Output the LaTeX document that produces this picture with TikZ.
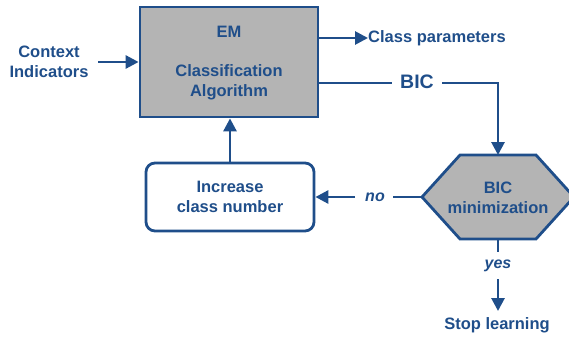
\documentclass[tikz,border=0pt]{standalone}
\usepackage{fontspec}
\setmainfont{Liberation Sans}
\usetikzlibrary{arrows.meta,shapes.geometric}
\definecolor{navy}{HTML}{1F4E8A}
\definecolor{boxgray}{HTML}{B4B4B4}
\begin{document}
\begin{tikzpicture}[x=1pt,y=-1pt,
  line/.style={draw=navy,line width=2.8pt},
  arr/.style={line,-{Triangle[length=13pt,width=13pt]}},
  lbl/.style={text=navy,font=\fontsize{16.5}{20}\selectfont\bfseries,align=center,inner sep=0pt},
  ital/.style={text=navy,font=\fontsize{16}{19}\selectfont\bfseries\itshape,inner sep=0pt},
  procbox/.style={line,fill=boxgray,minimum width=178pt,minimum height=110pt,inner sep=0pt},
  roundbox/.style={line,fill=white,rounded corners=9pt,minimum width=168pt,minimum height=68pt,inner sep=0pt},
  decide/.style={line,fill=boxgray}]
\useasboundingbox (0,0) rectangle (569,337);

% main EM block
\node[procbox] (em) at (229,62) {};
\node[lbl] (emt) at (229,32) {EM};
\node[lbl] (emc) at (229,82) {Classification\\Algorithm};

% input
\node[lbl] (ctx) at (49,62) {Context\\Indicators};
\coordinate (ctxend) at (98,62);
\draw[arr] (ctxend) -- (em.west);

% outputs
\coordinate (cpstart) at (em.east |- 0,38);
\node[lbl,anchor=west] (cp) at (368,38) {Class parameters};
\draw[arr] (cpstart) -- (cp.west);

\coordinate (bicstart) at (em.east |- 0,83);
\node[text=navy,font=\fontsize{19.5}{22}\selectfont\bfseries,inner sep=0pt] (bic) at (417,82) {BIC};
\coordinate (bicgap) at (392,83);
\coordinate (bicgap2) at (442,83);
\coordinate (biccorner) at (498,83);

% decision hexagon
\draw[decide] (422,197) -- (460,155) -- (536,155) -- (574,197) -- (536,239) -- (460,239) -- cycle;
\coordinate (hextop) at (498,155);
\coordinate (hexleft) at (422,197);
\coordinate (hexbot) at (498,239);
\node[lbl] (hext) at (498,198) {BIC\\minimization};

\draw[line] (bicstart) -- (bicgap);
\draw[arr] (bicgap2) -- (biccorner) -- (hextop);

% loop back
\node[roundbox] (inc) at (230,197) {};
\node[lbl] (inct) at (230,197) {Increase\\class number};
\node[ital] (no) at (375,197) {no};
\coordinate (nogap) at (393,197);
\coordinate (nogap2) at (355,197);
\draw[line] (hexleft) -- (nogap);
\draw[arr] (nogap2) -- (inc.east);
\draw[arr] (inc.north) -- (em.south -| inc.north);

% exit
\node[ital] (yes) at (498,266) {yes};
\node[lbl] (stop) at (497,325) {Stop learning};
\coordinate (yesgap) at (498,252);
\coordinate (yesgap2) at (498,279);
\coordinate (stoptop) at (498,311);
\draw[line] (hexbot) -- (yesgap);
\draw[arr] (yesgap2) -- (stoptop);
\end{tikzpicture}
\end{document}
